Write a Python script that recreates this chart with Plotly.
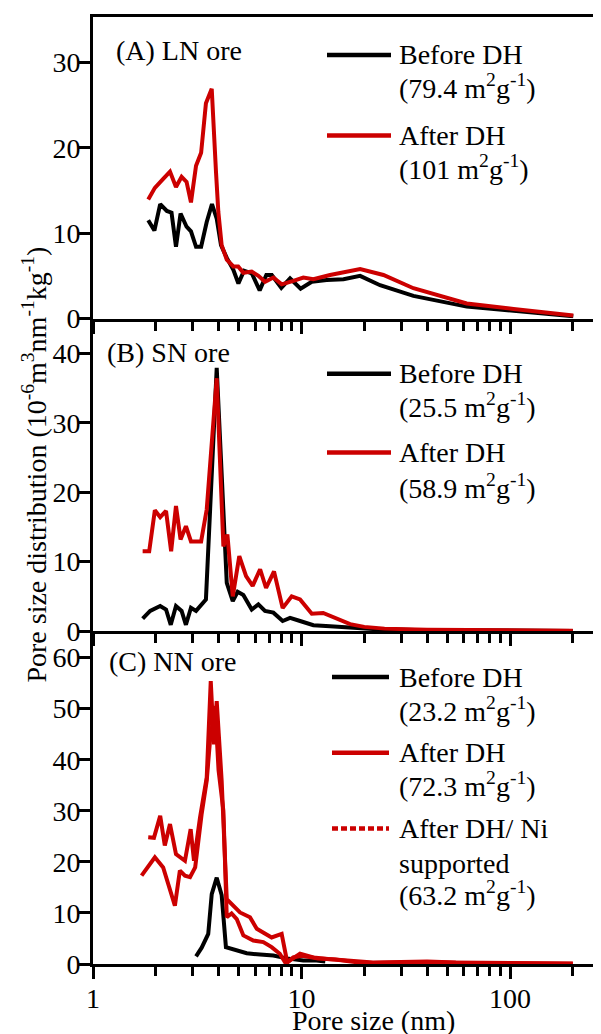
import math
import plotly.graph_objects as go

# ---------------- data ----------------
# Panel A: LN ore
a_before_x = [1.84, 1.97, 2.10, 2.26, 2.38, 2.50, 2.63, 2.81, 2.95, 3.12, 3.30, 3.51, 3.72, 3.92, 4.11, 4.38,
              4.71, 4.98, 5.30, 5.77, 6.30, 6.78, 7.2, 8.0, 8.81, 9.9, 11.2, 13.2, 15.9, 19.1, 23.8, 34.4,
              62, 104, 201]
a_before_y = [11.5, 10.3, 13.4, 12.6, 12.4, 8.4, 12.3, 10.75, 10.2, 8.4, 8.4, 11.3, 13.4, 11.7, 8.6, 7.1,
              5.7, 4.1, 5.6, 5.3, 3.3, 5.1, 5.1, 3.6, 4.7, 3.5, 4.3, 4.5, 4.6, 5.0, 3.9, 2.65,
              1.4, 0.9, 0.27]
a_after_x = [1.84, 1.98, 2.16, 2.34, 2.50, 2.66, 2.81, 2.95, 3.12, 3.30, 3.48, 3.71, 3.89, 3.99, 4.14, 4.38,
             4.71, 4.97, 5.26, 5.77, 6.21, 6.68, 7.33, 8.03, 9.14, 10.2, 11.4, 13.7, 19.1, 24.7, 34.4,
             62, 104, 201]
a_after_y = [13.95, 15.3, 16.3, 17.2, 15.4, 16.6, 16.0, 13.6, 17.9, 19.4, 25.2, 26.9, 17.1, 12.5, 8.6, 6.9,
             6.1, 6.1, 5.35, 5.5, 5.0, 4.3, 4.8, 4.0, 4.4, 4.8, 4.6, 5.1, 5.8, 5.1, 3.55,
             1.77, 1.12, 0.35]

# Panel B: SN ore
b_before_x = [1.73, 1.88, 2.10, 2.24, 2.36, 2.50, 2.66, 2.79, 2.95, 3.12, 3.48, 3.92, 4.38, 4.68, 4.94,
              5.26, 5.77, 6.21, 6.68, 7.33, 8.12, 8.81, 9.84, 11.4, 13.7, 17.1, 22, 35, 60, 100, 200]
b_before_y = [1.8, 2.9, 3.6, 3.1, 0.9, 3.6, 2.9, 0.9, 3.35, 2.9, 4.55, 37.9, 6.95, 4.3, 5.65,
              5.2, 3.1, 3.85, 2.9, 2.65, 1.45, 1.9, 1.45, 0.85, 0.7, 0.5, 0.3, 0.15, 0.1, 0.05, 0.02]
b_after_x = [1.73, 1.86, 1.98, 2.10, 2.24, 2.37, 2.50, 2.63, 2.79, 2.95, 3.30, 3.51, 3.92, 4.22, 4.41,
             4.68, 5.03, 5.42, 5.83, 6.33, 6.76, 7.38, 8.12, 8.97, 9.84, 11.2, 12.7, 14.7, 17.1, 20,
             25, 40, 70, 120, 200]
b_after_y = [11.5, 11.5, 17.4, 16.4, 17.3, 11.5, 18.0, 13.2, 15.1, 12.9, 12.9, 17.5, 36.4, 12.2, 13.9,
             5.0, 10.8, 7.9, 6.5, 8.9, 6.2, 8.6, 3.3, 5.0, 4.55, 2.5, 2.6, 1.8, 1.0, 0.6,
             0.35, 0.2, 0.1, 0.05, 0.03]

# Panel C: NN ore
c_before_x = [3.12, 3.32, 3.57, 3.71, 3.92, 4.14, 4.34, 4.98, 5.46, 6.33, 7.33, 8.49, 10.2, 11.8, 13.0]
c_before_y = [1.5, 3.2, 5.9, 13.7, 16.9, 13.5, 3.3, 2.6, 2.1, 1.85, 1.65, 1.1, 0.7, 0.7, 0.5]
c_after_x = [1.84, 1.96, 2.10, 2.21, 2.34, 2.50, 2.76, 2.94, 3.05, 3.26, 3.51, 3.67, 3.80, 3.92, 4.14,
             4.38, 5.07, 5.66, 6.10, 7.19, 8.03, 8.54, 9.84, 11.4, 13.4, 17, 22, 30, 40, 55, 80, 120, 200]
c_after_y = [24.8, 24.7, 29.0, 23.2, 27.4, 21.5, 20.2, 26.4, 20.2, 28.7, 36.5, 55.4, 43.0, 51.5, 35.9,
             12.7, 10.1, 9.15, 6.9, 5.2, 5.9, 0.35, 2.0, 1.3, 1.0, 0.6, 0.3, 0.4, 0.5, 0.3, 0.2, 0.15, 0.1]
c_ni_x = [1.71, 1.98, 2.17, 2.47, 2.61, 2.76, 2.92, 3.09, 3.32, 3.51, 3.64, 3.85, 4.0, 4.22, 4.38, 4.62,
          4.89, 5.26, 5.87, 6.56, 7.19, 7.87, 8.42, 9.12, 10.1, 12, 14.5, 18, 22, 30, 40, 55, 80, 120, 200]
c_ni_y = [17.3, 20.9, 18.9, 11.4, 18.3, 17.3, 17.0, 18.9, 29.4, 35.9, 43.7, 50.5, 38.0, 30.0, 9.15, 9.9,
          8.8, 5.6, 4.6, 4.3, 3.3, 2.0, 0.05, 1.3, 1.6, 1.1, 0.9, 0.4, 0.2, 0.3, 0.4, 0.25, 0.15, 0.1, 0.05]

panel_labels = ["(A) LN ore", "(B) SN ore", "(C) NN ore"]
legend_a = [("Before DH", "(79.4 m<sup>2</sup>g<sup>-1</sup>)"), ("After DH", "(101 m<sup>2</sup>g<sup>-1</sup>)")]
legend_b = [("Before DH", "(25.5 m<sup>2</sup>g<sup>-1</sup>)"), ("After DH", "(58.9 m<sup>2</sup>g<sup>-1</sup>)")]
legend_c = [("Before DH", "(23.2 m<sup>2</sup>g<sup>-1</sup>)"), ("After DH", "(72.3 m<sup>2</sup>g<sup>-1</sup>)"),
            ("After DH/ Ni", "supported", "(63.2 m<sup>2</sup>g<sup>-1</sup>)")]
x_major = [1, 10, 100]
x_major_text = ["1", "10", "100"]
x_minor = [2, 3, 4, 5, 6, 7, 8, 9, 20, 30, 40, 50, 60, 70, 80, 90, 200]
y_ranges = [[0, 35.3], [0, 45.0], [0, 65.2]]

# ---------------- styling ----------------
BLACK = "#000000"
RED = "#CC0000"
FONT = "Liberation Serif, Times New Roman, Times, serif"
FS = 28
OFF = 8  # page body offset of the figure in the screenshot
W, H = 601, 1034
ML, MR, MT, MB = 85, 8, 6, 78
PW, PH = W - ML - MR, H - MT - MB


def px(xs):
    """screen pixel x -> paper x"""
    return (xs - OFF - ML) / PW


def py(ys):
    """screen pixel y -> paper y"""
    return (H - MB - (ys - OFF)) / PH


fig = go.Figure()
lw = 4
traces = [
    (a_before_x, a_before_y, BLACK, "x", "y", "Before DH"),
    (a_after_x, a_after_y, RED, "x", "y", "After DH"),
    (b_before_x, b_before_y, BLACK, "x2", "y2", "Before DH"),
    (b_after_x, b_after_y, RED, "x2", "y2", "After DH"),
    (c_before_x, c_before_y, BLACK, "x3", "y3", "Before DH"),
    (c_ni_x, c_ni_y, RED, "x3", "y3", "After DH/ Ni supported"),
    (c_after_x, c_after_y, RED, "x3", "y3", "After DH"),
]
for xs, ys, col, xa, ya, name in traces:
    fig.add_trace(go.Scatter(x=xs, y=ys, mode="lines", name=name, showlegend=False,
                             line=dict(color=col, width=lw), xaxis=xa, yaxis=ya))

xr = [0, math.log10(273)]
xcommon = dict(type="log", range=xr, showline=True, linewidth=3, linecolor=BLACK,
               ticks="outside", ticklen=12, tickwidth=3, tickcolor=BLACK,
               tickmode="array", tickvals=x_major, ticktext=x_major_text,
               showgrid=False, zeroline=False,
               tickfont=dict(family=FONT, size=FS, color=BLACK),
               minor=dict(tickmode="array", tickvals=x_minor, ticks="outside", ticklen=9,
                          tickwidth=3, tickcolor=BLACK, showgrid=False))

yA0 = py(316.5)
yB0 = py(630)
domains = [[yA0, 1.0], [yB0, yA0], [0.0, yB0]]

ycommon = dict(showline=True, linewidth=3, linecolor=BLACK, ticks="outside", ticklen=11,
               tickwidth=3, tickcolor=BLACK, tick0=0, dtick=10, showgrid=False, zeroline=False,
               ticklabelstandoff=-7,
               tickfont=dict(family=FONT, size=FS, color=BLACK))

fig.update_layout(
    width=W, height=H,
    margin=dict(l=ML, r=MR, t=MT, b=MB),
    paper_bgcolor="white", plot_bgcolor="white",
    font=dict(family=FONT, size=FS, color=BLACK),
    xaxis=dict(xcommon, anchor="y", showticklabels=False, mirror=True),
    xaxis2=dict(xcommon, anchor="y2", showticklabels=False),
    xaxis3=dict(xcommon, anchor="y3", showticklabels=True, ticklabelstandoff=-5),
    yaxis=dict(ycommon, anchor="x", domain=domains[0], range=y_ranges[0]),
    yaxis2=dict(ycommon, anchor="x2", domain=domains[1], range=y_ranges[1]),
    yaxis3=dict(ycommon, anchor="x3", domain=domains[2], range=y_ranges[2]),
)

ann = []
shapes = []


def text(x, y, s, xanchor="left", size=FS):
    ann.append(dict(x=px(x), y=py(y), xref="paper", yref="paper", text=s, showarrow=False,
                    xanchor=xanchor, yanchor="middle", font=dict(family=FONT, size=size, color=BLACK)))


# panel labels
text(114, 48, panel_labels[0])
text(105, 351, panel_labels[1])
text(107, 661, panel_labels[2])


def sample(x0, x1, y, col, dash="solid"):
    shapes.append(dict(type="line", xref="paper", yref="paper", x0=px(x0), x1=px(x1), y0=py(y), y1=py(y),
                       line=dict(color=col, width=4.5, dash=dash)))


# legends
TX = 397
SUP = 4  # superscript lines render a bit lower
sample(327, 391, 52, BLACK); text(TX, 52, legend_a[0][0]); text(TX, 88 - SUP, legend_a[0][1])
sample(327, 391, 133, RED); text(TX, 133, legend_a[1][0]); text(TX, 169 - SUP, legend_a[1][1])

sample(327, 391, 372, BLACK); text(TX, 372, legend_b[0][0]); text(TX, 408 - SUP, legend_b[0][1])
sample(327, 391, 451, RED); text(TX, 451, legend_b[1][0]); text(TX, 489 - SUP, legend_b[1][1])

sample(332, 389, 676, BLACK); text(TX, 677, legend_c[0][0]); text(TX, 713 - SUP, legend_c[0][1])
sample(332, 389, 752, RED); text(TX, 752, legend_c[1][0]); text(TX, 788 - SUP, legend_c[1][1])
sample(332, 389, 828, RED, dash="6px,3px"); text(TX, 828, legend_c[2][0]); text(TX, 863, legend_c[2][1])
text(TX, 897 - SUP, legend_c[2][2])

# axis titles
text(373, 1021, "Pore size (nm)", xanchor="center")
ann.append(dict(x=px(35), y=py(463), xref="paper", yref="paper",
                text="Pore size distribution (10<sup>-6</sup>m<sup>3</sup>nm<sup>-1</sup>kg<sup>-1</sup>)",
                showarrow=False, textangle=-90, xanchor="center", yanchor="middle",
                font=dict(family=FONT, size=28, color=BLACK)))

fig.update_layout(annotations=ann, shapes=shapes)
fig.write_html("out.html")
